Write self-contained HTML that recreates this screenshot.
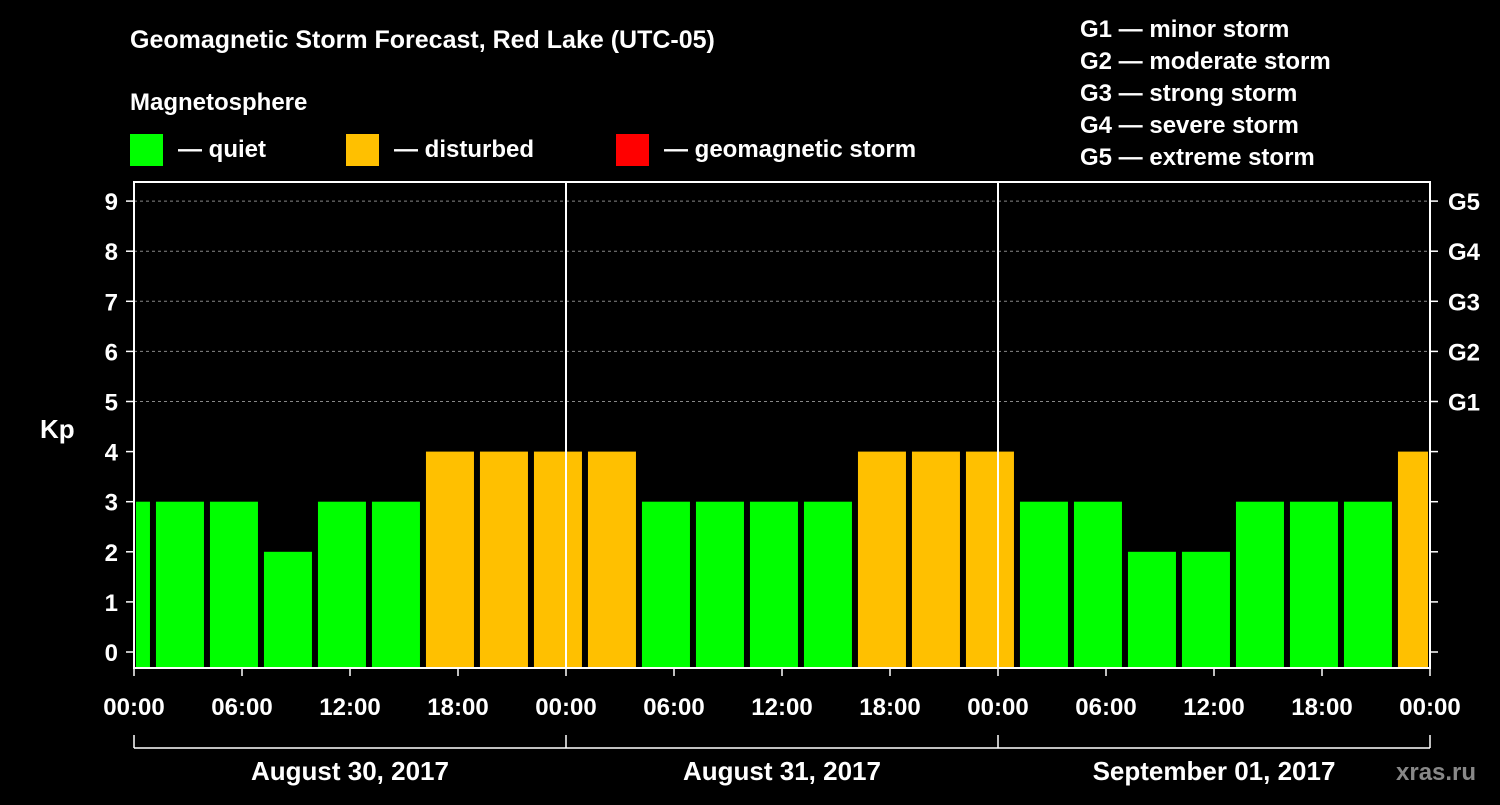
<!DOCTYPE html>
<html><head><meta charset="utf-8"><style>
body{margin:0;background:#000;}
svg text{font-family:"Liberation Sans",sans-serif;font-weight:bold;fill:#fff;}
</style></head><body>
<svg id="c" width="1500" height="800" xmlns="http://www.w3.org/2000/svg">
<rect width="1500" height="800" fill="#000"/>
<text x="130" y="48" font-size="25">Geomagnetic Storm Forecast, Red Lake (UTC-05)</text>
<text x="130" y="110" font-size="24">Magnetosphere</text>
<g>
<rect x="130" y="134" width="33" height="32" fill="#00ff00"/>
<text x="178" y="157" font-size="24">— quiet</text>
<rect x="346" y="134" width="33" height="32" fill="#ffc000"/>
<text x="394" y="157" font-size="24">— disturbed</text>
<rect x="616" y="134" width="33" height="32" fill="#ff0000"/>
<text x="664" y="157" font-size="24">— geomagnetic storm</text>
</g>
<g font-size="24">
<text x="1080" y="37">G1 — minor storm</text>
<text x="1080" y="69">G2 — moderate storm</text>
<text x="1080" y="101">G3 — strong storm</text>
<text x="1080" y="133">G4 — severe storm</text>
<text x="1080" y="165">G5 — extreme storm</text>
</g>
<g id="plot"></g>
<text x="40" y="438" font-size="26">Kp</text>
<text x="1396" y="780" font-size="24" style="fill:#888">xras.ru</text>
</svg>
<script>
const values=[3,3,3,2,3,3,4,4,4,4,3,3,3,3,4,4,4,3,3,2,2,3,3,3,4];
const yTicks=[0,1,2,3,4,5,6,7,8,9];
const gLabels=["G1","G2","G3","G4","G5"];
const timeLabels=["00:00","06:00","12:00","18:00","00:00","06:00","12:00","18:00","00:00","06:00","12:00","18:00","00:00"];
const dateLabels=["August 30, 2017","August 31, 2017","September 01, 2017"];
const NS="http://www.w3.org/2000/svg";
const L=134,R=1430,T=182,B=668;
const pxH=18;
const y=v=>652-v*50.1;
const x=h=>L+h*pxH;
const firstStart=-1.78; // hours offset of first bar start
const g=document.getElementById('plot');
function el(t,a,p){const e=document.createElementNS(NS,t);for(const k in a)e.setAttribute(k,a[k]);(p||g).appendChild(e);return e;}
// grid
yTicks.forEach(v=>{
 if(v>=5){const l=el('line',{x1:L,x2:R,y1:y(v),y2:y(v),stroke:'#888','stroke-dasharray':'3,3'});
 }
 const t=el('text',{x:118,y:y(v)+9,'font-size':24,'text-anchor':'end'});t.textContent=v;
 
 el('line',{x1:L-8,x2:L,y1:y(v),y2:y(v),stroke:'#fff','stroke-width':1.5});
 el('line',{x1:R,x2:R+8,y1:y(v),y2:y(v),stroke:'#fff','stroke-width':1.5});
});
gLabels.forEach((s,i)=>{const t=el('text',{x:1448,y:y(5+i)+9,'font-size':24});t.textContent=s;
 });
// bars
values.forEach((v,i)=>{
 let x0=x(firstStart+i*3), x1=x0+48;
 x0=Math.max(x0,L+2); x1=Math.min(x1,R-2);
 const r=el('rect',{x:x0,y:y(v),width:x1-x0,height:B-y(v),fill:v>=5?'#ff0000':(v>=4?'#ffc000':'#00ff00')});
 
});
// frame
const f=el('rect',{x:L,y:T,width:R-L,height:B-T,fill:'none',stroke:'#fff','stroke-width':2});

[1,2].forEach(d=>{const l=el('line',{x1:x(d*24),x2:x(d*24),y1:T,y2:B,stroke:'#fff','stroke-width':2});
 });
timeLabels.forEach((s,i)=>{
 el('line',{x1:x(i*6),x2:x(i*6),y1:B,y2:B+8,stroke:'#fff','stroke-width':1.5});
 const t=el('text',{x:x(i*6),y:715,'font-size':24,'text-anchor':'middle'});t.textContent=s;
 
});
el('line',{x1:L,x2:R,y1:748,y2:748,stroke:'#fff','stroke-width':1.5});
[0,1,2,3].forEach(d=>el('line',{x1:x(d*24),x2:x(d*24),y1:735,y2:748,stroke:'#fff','stroke-width':1.5}));
dateLabels.forEach((s,i)=>{const t=el('text',{x:x(i*24+12),y:780,'font-size':26,'text-anchor':'middle'});t.textContent=s;
 });
</script>
</body></html>
